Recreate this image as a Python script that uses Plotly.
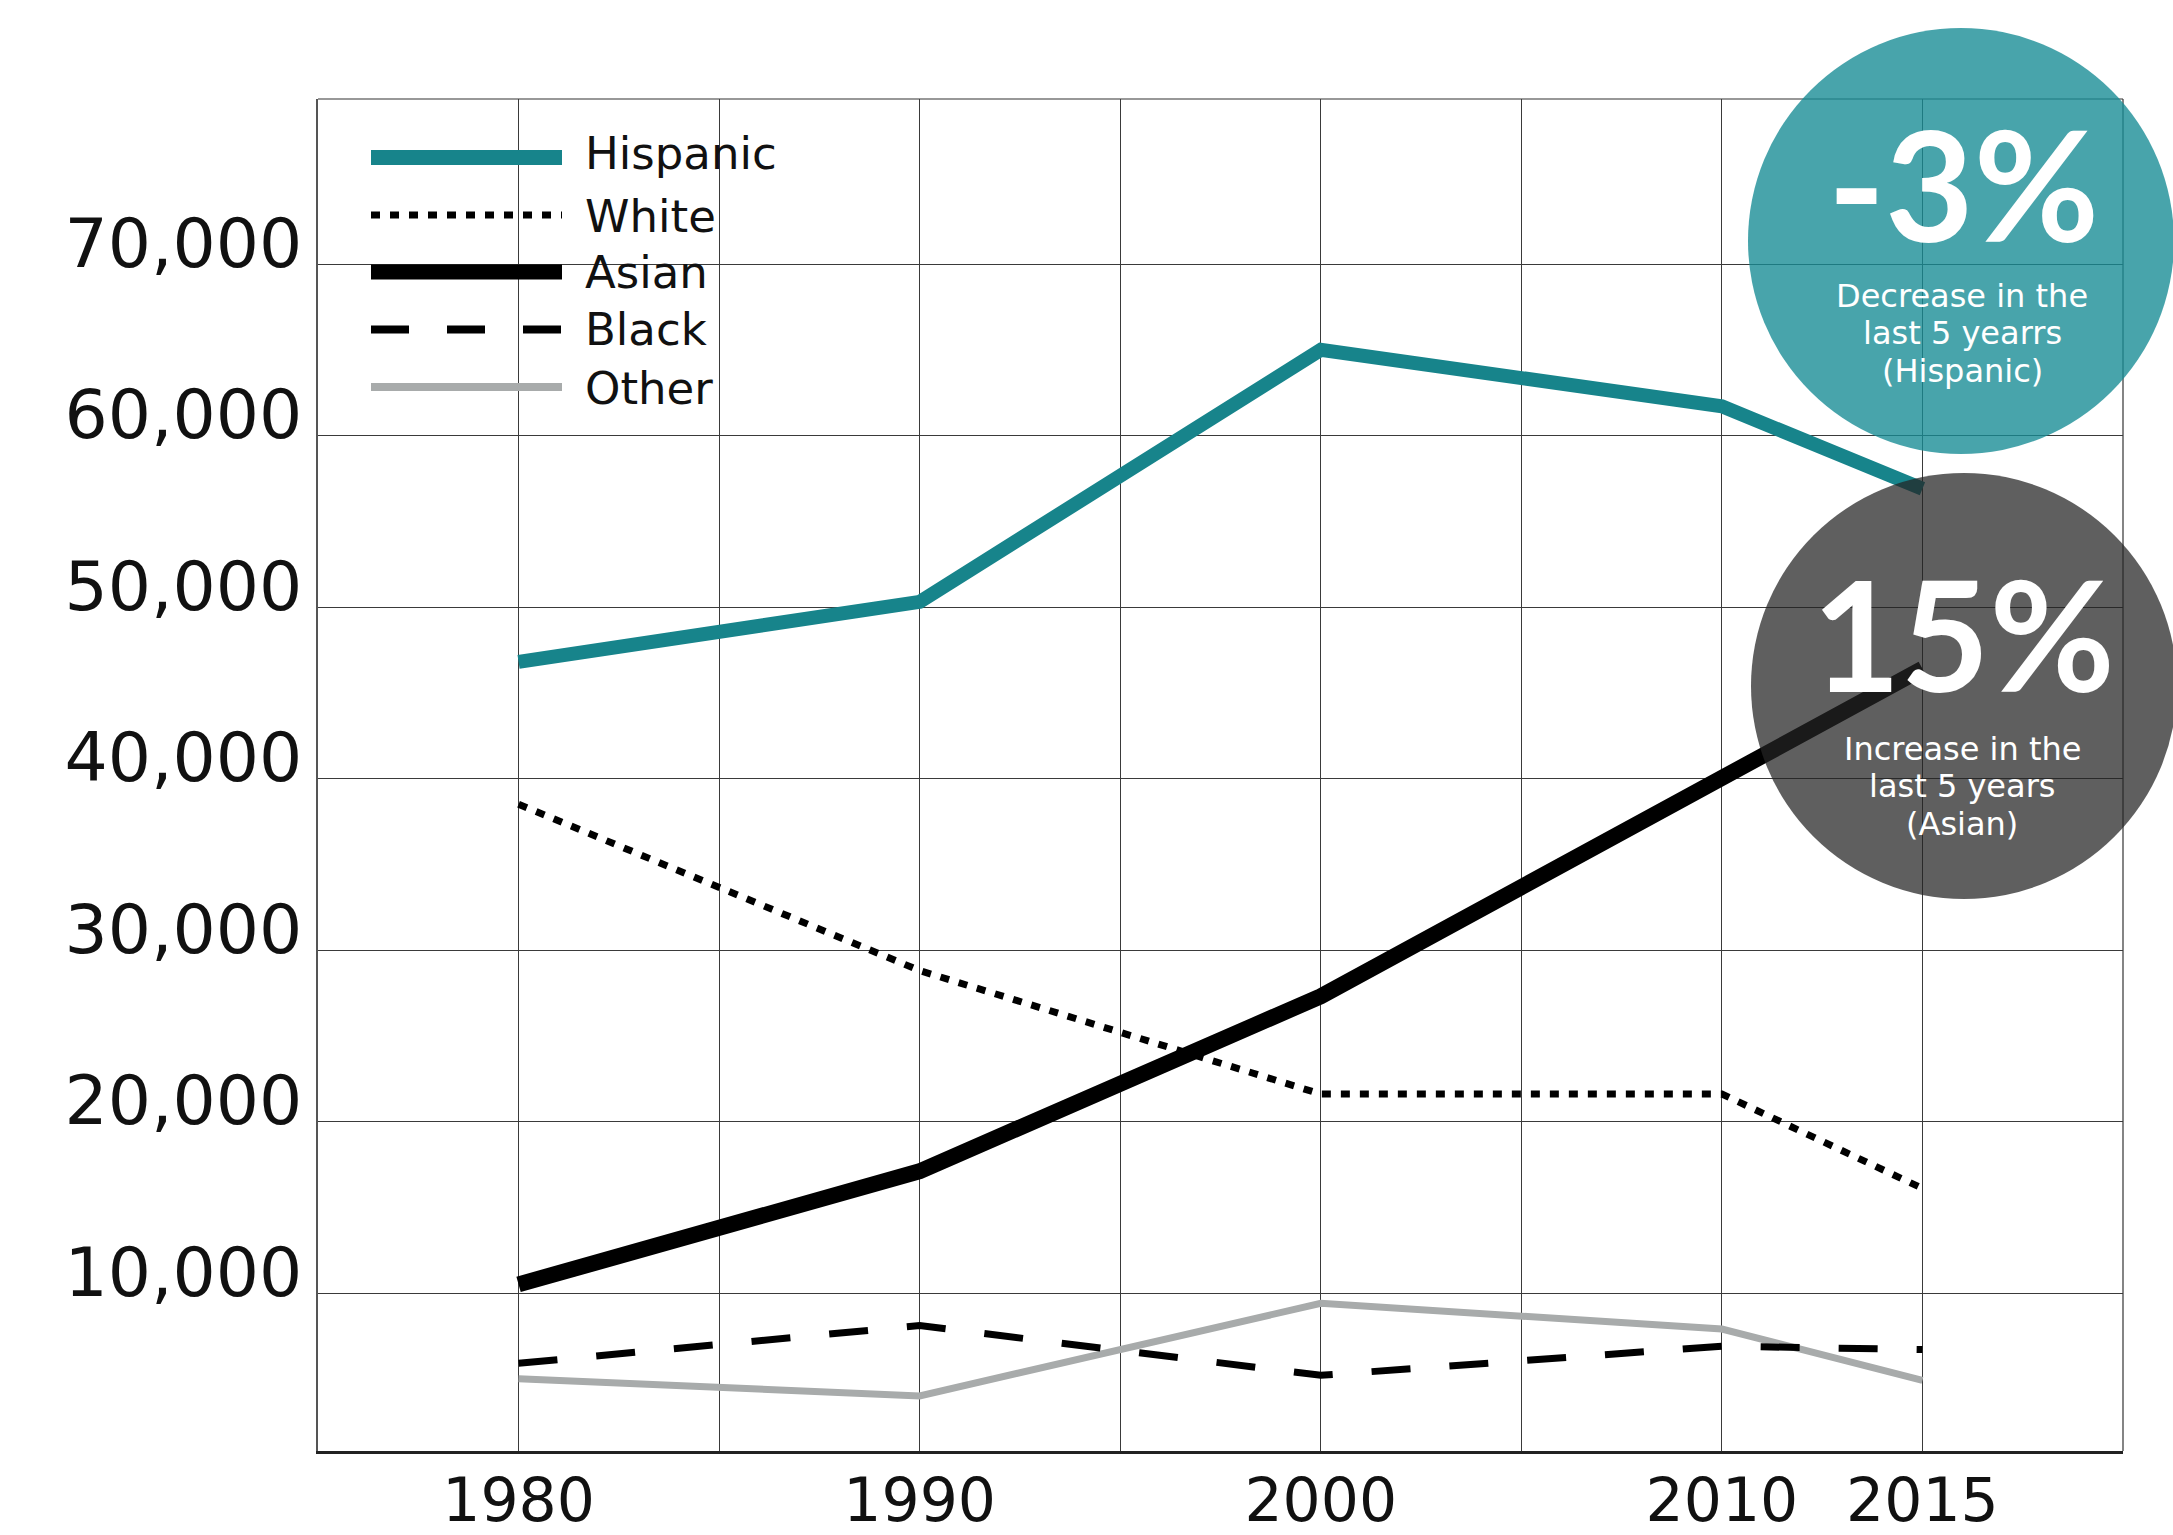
import plotly.graph_objects as go

# ---- data -------------------------------------------------------------
years = [1980, 1990, 2000, 2010, 2015]
hispanic = [46800, 50300, 65000, 61700, 56900]
white = [38500, 28800, 21600, 21600, 16100]
asian = [10500, 17100, 27300, 40000, 46400]
black = [5900, 8100, 5200, 6900, 6700]
other = [5000, 4000, 9400, 7900, 4900]

series_names = ["Hispanic", "White", "Asian", "Black", "Other"]

y_ticks = [10000, 20000, 30000, 40000, 50000, 60000, 70000]
y_tick_text = ["10,000", "20,000", "30,000", "40,000", "50,000", "60,000", "70,000"]
x_grid = [1975, 1980, 1985, 1990, 1995, 2000, 2005, 2010, 2015, 2020]
x_tick_text = ["", "1980", "", "1990", "", "2000", "", "2010", "2015", ""]

# ---- styling -----------------------------------------------------------
TEAL = "#17848B"
GREY = "#A8ABAB"
FONT = "DejaVu Sans"
BIG_FONT = "Lato"

styles = {
    "Hispanic": dict(color=TEAL, width=14, dash="solid"),
    "White": dict(color="#000000", width=7, dash="9px,10px"),
    "Asian": dict(color="#000000", width=16, dash="solid"),
    "Black": dict(color="#000000", width=7, dash="39px,39px"),
    "Other": dict(color=GREY, width=7, dash="solid"),
}
legend_styles = {
    "Hispanic": dict(color=TEAL, width=15, dash="solid"),
    "White": dict(color="#000000", width=7, dash="9px,10px"),
    "Asian": dict(color="#000000", width=15, dash="solid"),
    "Black": dict(color="#000000", width=8, dash="38px,38px"),
    "Other": dict(color=GREY, width=8, dash="solid"),
}

W, H = 2173, 1535
PL, PR, PT, PB = 318, 2123, 99, 1451  # plot area edges in page pixels


def fx(px):
    return (px - PL) / (PR - PL)


def fy(py):
    return (PB - py) / (PB - PT)


values = dict(zip(series_names, [hispanic, white, asian, black, other]))

fig = go.Figure()
for name in ["Other", "Black", "White", "Asian", "Hispanic"]:
    fig.add_trace(
        go.Scatter(
            x=years,
            y=values[name],
            mode="lines",
            name=name,
            line=styles[name],
            showlegend=False,
            hoverinfo="skip",
        )
    )

shapes = []
annotations = []

# frame: thin top and right edges
shapes.append(dict(type="line", xref="paper", yref="paper", x0=0, x1=1, y0=1, y1=1,
                   line=dict(color="#333333", width=1.2), layer="below"))
shapes.append(dict(type="line", xref="paper", yref="paper", x0=1, x1=1, y0=0, y1=1,
                   line=dict(color="#333333", width=1.2), layer="below"))

# hand-made legend with long line samples
legend_rows = [("Hispanic", 157.5, 153), ("White", 215, 216), ("Asian", 272, 272),
               ("Black", 329.5, 330), ("Other", 387, 388)]
for name, line_y, text_y in legend_rows:
    shapes.append(dict(type="line", xref="paper", yref="paper",
                       x0=fx(371), x1=fx(562), y0=fy(line_y), y1=fy(line_y),
                       line=legend_styles[name], layer="above"))
    annotations.append(dict(text=name, xref="paper", yref="paper", x=fx(583), y=fy(text_y),
                            xanchor="left", yanchor="middle", showarrow=False,
                            font=dict(family=FONT, size=45, color="#111111")))

# call-out bubbles
R = 213
bubbles = [
    dict(cx=1961, cy=241, fill="rgba(23,140,148,0.79)", big="-3%", big_y=183,
         lines=[("Decrease in the", 296), ("last 5 yearrs", 333.4), ("(Hispanic)", 370.8)]),
    dict(cx=1964, cy=686, fill="rgba(35,35,35,0.73)", big="15%", big_y=633,
         lines=[("Increase in the", 749), ("last 5 years", 786.4), ("(Asian)", 823.8)]),
]
for b in bubbles:
    shapes.append(dict(type="circle", xref="paper", yref="paper",
                       x0=fx(b["cx"] - R), x1=fx(b["cx"] + R),
                       y0=fy(b["cy"] + R), y1=fy(b["cy"] - R),
                       fillcolor=b["fill"], line=dict(width=0), layer="above"))
    annotations.append(dict(text="<b>%s</b>" % b["big"], xref="paper", yref="paper",
                            x=fx(1963), y=fy(b["big_y"]), xanchor="center", yanchor="middle",
                            showarrow=False,
                            font=dict(family=BIG_FONT, size=153, color="white")))
    for txt, ty in b["lines"]:
        annotations.append(dict(text=txt, xref="paper", yref="paper",
                                x=fx(1962), y=fy(ty), xanchor="center", yanchor="middle",
                                showarrow=False,
                                font=dict(family=FONT, size=32, color="white")))

fig.update_layout(
    width=W,
    height=H,
    margin=dict(l=PL, r=W - PR, t=PT, b=H - PB, pad=0, autoexpand=False),
    paper_bgcolor="white",
    plot_bgcolor="white",
    showlegend=False,
    shapes=shapes,
    annotations=annotations,
    font=dict(family=FONT, color="#111111"),
)

fig.update_xaxes(
    range=[1975, 2020],
    tickmode="array",
    tickvals=x_grid,
    ticktext=x_tick_text,
    showgrid=True,
    gridcolor="#3a3a3a",
    gridwidth=1.2,
    showline=True,
    linecolor="#222222",
    linewidth=2.5,
    ticks="",
    zeroline=False,
    automargin=False,
    tickfont=dict(family=FONT, size=60, color="#111111"),
    ticklabelstandoff=-5,
)

fig.update_yaxes(
    range=[787, 79621],
    tickmode="array",
    tickvals=y_ticks,
    ticktext=y_tick_text,
    showgrid=True,
    gridcolor="#3a3a3a",
    gridwidth=1.2,
    showline=True,
    linecolor="#555555",
    linewidth=2,
    ticks="",
    zeroline=False,
    automargin=False,
    tickfont=dict(family=FONT, size=68, color="#111111"),
    ticklabelshift=-21,
    ticklabelstandoff=0,
)

fig.write_html("out.html")
